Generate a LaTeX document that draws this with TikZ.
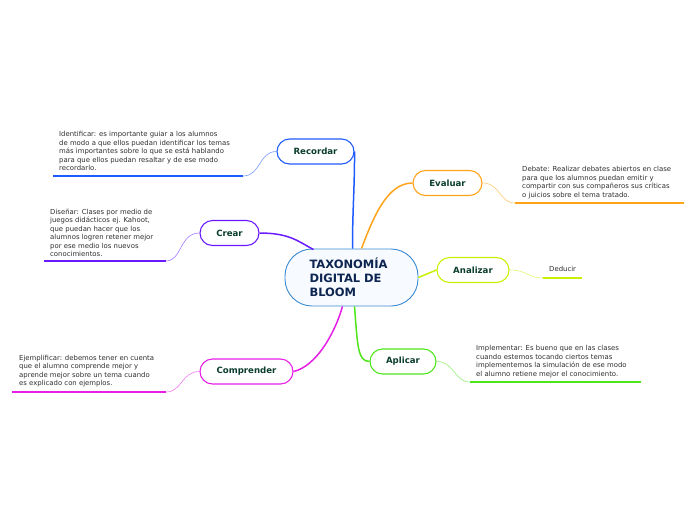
\documentclass[tikz,border=0pt]{standalone}
\usepackage{fontspec}
\setmainfont{DejaVu Sans}
\definecolor{cblue}{HTML}{1F5CFF}
\definecolor{cbluel}{HTML}{7A9BFF}
\definecolor{cpurple}{HTML}{6A1AFF}
\definecolor{cpurplel}{HTML}{A27AFF}
\definecolor{cmag}{HTML}{E61EE6}
\definecolor{cmagl}{HTML}{F07AF0}
\definecolor{corange}{HTML}{FFA31A}
\definecolor{corangel}{HTML}{FFC870}
\definecolor{cyg}{HTML}{C8F000}
\definecolor{cygl}{HTML}{DDF570}
\definecolor{cgreen}{HTML}{4EE61A}
\definecolor{cgreenl}{HTML}{94F075}
\definecolor{croot}{HTML}{3A8AD0}
\definecolor{rootfill}{HTML}{F7FBFF}
\definecolor{roottext}{HTML}{0D2550}
\definecolor{labelgreen}{HTML}{0B3D2E}
\definecolor{textgray}{HTML}{2E2E2E}
\begin{document}
\begin{tikzpicture}[x=1pt,y=-1pt,
  mainbox/.style={draw, fill=white, rounded corners=12.5pt, line width=1.1pt,
    minimum height=25pt, inner sep=0pt, text=labelgreen,
    font=\bfseries\fontsize{8.6}{9}\selectfont},
  rootbox/.style={draw=croot, fill=rootfill, rounded corners=27pt, line width=0.9pt,
    minimum width=133pt, minimum height=57pt, inner sep=0pt, text=roottext,
    text width=84pt, align=left, font=\bfseries\fontsize{11.5}{14}\selectfont},
  leaftext/.style={anchor=north west, align=left, inner sep=0pt, text=textgray,
    font=\fontsize{6.9}{8.5}\selectfont},
  mainlink/.style={line width=1.5pt},
  leaflink/.style={line width=0.6pt},
  underline/.style={line width=2pt}
]
\useasboundingbox (0,0) rectangle (696,520);

% root
\node[rootbox] (root) at (351.5,277.5) {TAXONOMÍA\\DIGITAL DE\\BLOOM};

% main nodes
\node[mainbox, draw=cblue, minimum width=77pt] (rec) at (315.5,151.5) {Recordar};
\node[mainbox, draw=cpurple, minimum width=59pt] (cre) at (229.5,233) {Crear};
\node[mainbox, draw=cmag, minimum width=93pt] (com) at (246.5,371.5) {Comprender};
\node[mainbox, draw=corange, minimum width=69pt] (eva) at (447.5,183) {Evaluar};
\node[mainbox, draw=cyg, minimum width=72pt] (ana) at (473,270) {Analizar};
\node[mainbox, draw=cgreen, minimum width=66pt] (apl) at (403,361.5) {Aplicar};

% main connectors
\draw[mainlink, cblue] ([xshift=1pt]root.north) .. controls +(0,-40) and +(0,40) .. (rec.east);
\draw[mainlink, cpurple] (cre.east) .. controls +(30,0) and +(-15,-8) .. ([xshift=-38pt,yshift=-1pt]root.north);
\draw[mainlink, cmag] (com.east) .. controls +(22,-5) and +(-8,28) .. ([xshift=-9pt]root.south);
\draw[mainlink, corange] ([xshift=10pt]root.north) .. controls +(12,-32) and +(-25,0) .. (eva.west);
\draw[mainlink, cyg] (root.east) -- (ana.west);
\draw[mainlink, cgreen] ([xshift=3pt]root.south) .. controls +(3,38) and +(-12,0) .. (apl.west);

% leaves
\node[leaftext] (t1) at (59,131.5) {Identificar: es importante guiar a los alumnos\\de modo a que ellos puedan identificar los temas\\más importantes sobre lo que se está hablando\\para que ellos puedan resaltar y de ese modo\\recordarlo.};
\coordinate (u1a) at (243,176);
\coordinate (u1b) at (53,176);
\draw[underline, cblue] (u1a) -- (u1b);
\draw[leaflink, cbluel] (rec.west) .. controls +(-18,0) and +(18,0) .. (u1a);

\node[leaftext] (t2) at (50,208.5) {Diseñar: Clases por medio de\\juegos didácticos ej. Kahoot,\\que puedan hacer que los\\alumnos logren retener mejor\\por ese medio los nuevos\\conocimientos.};
\coordinate (u2a) at (166,261);
\coordinate (u2b) at (44,261);
\draw[underline, cpurple] (u2a) -- (u2b);
\draw[leaflink, cpurplel] (cre.west) .. controls +(-20,0) and +(16,0) .. (u2a);

\node[leaftext] (t3) at (19,355) {Ejemplificar: debemos tener en cuenta\\que el alumno comprende mejor y\\aprende mejor sobre un tema cuando\\es explicado con ejemplos.};
\coordinate (u3a) at (166,392);
\coordinate (u3b) at (12,392);
\draw[underline, cmag] (u3a) -- (u3b);
\draw[leaflink, cmagl] (com.west) .. controls +(-18,0) and +(16,0) .. (u3a);

\node[leaftext] (t4) at (522,166.5) {Debate: Realizar debates abiertos en clase\\para que los alumnos puedan emitir y\\compartir con sus compañeros sus críticas\\o juicios sobre el tema tratado.};
\coordinate (u4a) at (515,203);
\coordinate (u4b) at (684,203);
\draw[underline, corange] (u4a) -- (u4b);
\draw[leaflink, corangel] (eva.east) .. controls +(18,0) and +(-16,0) .. (u4a);

\node[leaftext] (t5) at (549,266.5) {Deducir};
\coordinate (u5a) at (543,278);
\coordinate (u5b) at (582,278);
\draw[underline, cyg] (u5a) -- (u5b);
\draw[leaflink, cygl] (ana.east) .. controls +(18,0) and +(-16,0) .. (u5a);

\node[leaftext] (t6) at (476,345.5) {Implementar: Es bueno que en las clases\\cuando estemos tocando ciertos temas\\implementemos la simulación de ese modo\\el alumno retiene mejor el conocimiento.};
\coordinate (u6a) at (470,382);
\coordinate (u6b) at (641,382);
\draw[underline, cgreen] (u6a) -- (u6b);
\draw[leaflink, cgreenl] (apl.east) .. controls +(18,0) and +(-16,0) .. (u6a);
\end{tikzpicture}
\end{document}
